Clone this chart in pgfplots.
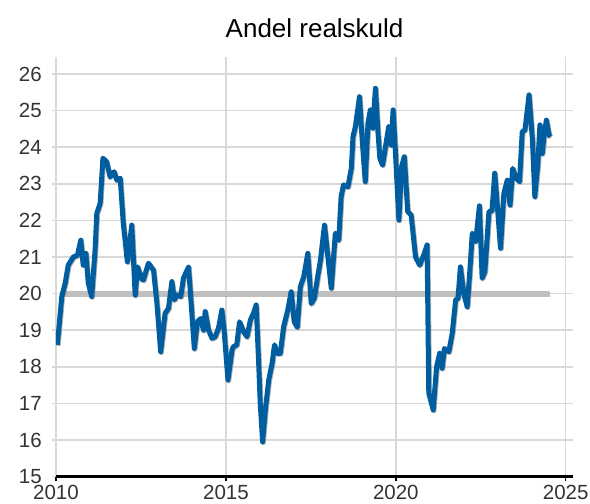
\documentclass[border=0pt]{standalone}
\usepackage{fontspec}
\setmainfont{Liberation Sans}
\usepackage{pgfplots}
\pgfplotsset{compat=1.18}

\definecolor{lineblue}{RGB}{0,94,160}
\definecolor{gridgray}{RGB}{217,217,217}
\definecolor{refgray}{RGB}{192,192,192}
\definecolor{labelgray}{RGB}{51,51,51}

\begin{document}
\begin{tikzpicture}
\useasboundingbox (-56bp,-27.4bp) rectangle (534bp,476.6bp);
\begin{axis}[
    scale only axis,
    width=517.2bp, height=419.4bp,
    xmin=2010, xmax=2025.22,
    ymin=15, ymax=26.46,
    xtick={2010,2015,2020,2025},
    ytick={15,16,...,26},
    /pgf/number format/1000 sep={},
    /pgf/number format/assume math mode=true,
    grid=major,
    major grid style={gridgray, line width=1.5bp},
    axis lines*=left,
    x axis line style={black, line width=2.5bp, -},
    y axis line style={draw=none},
    tick align=outside,
    major tick length=4bp,
    xtick style={black, line width=1.5bp},
    ytick style={gridgray, line width=1.5bp},
    tick label style={font=\fontsize{20.5bp}{24bp}\selectfont, text=labelgray},
    yticklabel style={anchor=east, inner sep=0pt, xshift=-10bp},
    xticklabel style={anchor=north, inner sep=0pt, yshift=-4.5bp},
    title={Andel realskuld},
    title style={font=\fontsize{26bp}{30bp}\selectfont, inner sep=0pt,
        anchor=base, at={(0.5,1)}, yshift=14bp},
]

% reference line at 20
\addplot[gray, opacity=0.5, line width=5bp, xshift=0.8bp, yshift=-0.8bp]
    coordinates {(2010.12,20) (2024.5,20)};
\addplot[refgray, line width=5bp]
    coordinates {(2010.12,20) (2024.5,20)};

% Andel realskuld
\def\realdata{
(2010.04,18.60) (2010.17,19.92) (2010.27,20.28) (2010.36,20.78) (2010.51,21.00)
(2010.63,21.05) (2010.73,21.46) (2010.80,20.78) (2010.88,21.10) (2010.95,20.28)
(2011.05,19.92) (2011.15,21.19) (2011.20,22.19) (2011.30,22.47) (2011.38,23.70)
(2011.49,23.60) (2011.59,23.19) (2011.71,23.33) (2011.79,23.10) (2011.89,23.15)
(2011.98,21.92) (2012.10,20.87) (2012.23,21.87) (2012.33,19.96) (2012.40,20.73)
(2012.52,20.40) (2012.57,20.37) (2012.72,20.83) (2012.87,20.64) (2012.97,19.73)
(2013.08,18.41) (2013.21,19.46) (2013.31,19.60) (2013.41,20.33) (2013.48,19.83)
(2013.56,19.96) (2013.67,19.92) (2013.75,20.42) (2013.90,20.73) (2013.97,19.83)
(2014.07,18.50) (2014.16,19.23) (2014.26,19.32) (2014.34,19.00) (2014.39,19.51)
(2014.49,19.00) (2014.59,18.78) (2014.68,18.82) (2014.78,19.05) (2014.88,19.55)
(2014.95,18.96) (2015.06,17.64) (2015.18,18.46) (2015.22,18.55) (2015.32,18.60)
(2015.40,19.23) (2015.52,18.96) (2015.62,18.82) (2015.72,19.28) (2015.81,19.46)
(2015.89,19.69) (2015.96,18.19) (2016.01,17.00) (2016.08,15.95) (2016.16,16.82)
(2016.26,17.64) (2016.36,18.10) (2016.43,18.60) (2016.50,18.37) (2016.60,18.37)
(2016.70,19.10) (2016.82,19.55) (2016.92,20.05) (2017.01,19.23) (2017.10,19.08)
(2017.19,20.19) (2017.29,20.46) (2017.41,21.10) (2017.51,19.73) (2017.60,19.87)
(2017.70,20.46) (2017.78,20.90) (2017.90,21.87) (2017.99,21.10) (2018.10,20.15)
(2018.22,21.65) (2018.32,21.46) (2018.39,22.65) (2018.46,22.97) (2018.59,22.92)
(2018.69,23.42) (2018.74,24.29) (2018.81,24.56) (2018.93,25.38) (2019.01,24.20)
(2019.10,23.06) (2019.18,24.65) (2019.25,25.02) (2019.32,24.52) (2019.40,25.61)
(2019.47,24.47) (2019.53,23.70) (2019.61,23.51) (2019.72,24.15) (2019.79,24.56)
(2019.86,24.06) (2019.92,25.02) (2019.99,23.83) (2020.09,22.01) (2020.17,23.47)
(2020.25,23.74) (2020.35,22.24) (2020.45,22.15) (2020.58,21.00) (2020.70,20.78)
(2020.82,21.05) (2020.92,21.33) (2020.97,17.28) (2021.10,16.82) (2021.20,18.00)
(2021.29,18.37) (2021.36,17.96) (2021.43,18.50) (2021.56,18.41) (2021.66,18.92)
(2021.76,19.83) (2021.83,19.87) (2021.90,20.73) (2022.00,20.00) (2022.10,19.64)
(2022.18,20.64) (2022.25,21.65) (2022.35,21.42) (2022.46,22.40) (2022.54,20.42)
(2022.62,20.60) (2022.74,22.24) (2022.83,22.26) (2022.91,23.29) (2022.99,22.37)
(2023.08,21.24) (2023.18,22.74) (2023.28,23.10) (2023.36,22.42) (2023.44,23.42)
(2023.54,23.15) (2023.64,23.06) (2023.72,24.42) (2023.80,24.47) (2023.92,25.43)
(2024.02,24.20) (2024.09,22.65) (2024.18,23.56) (2024.24,24.61) (2024.31,23.83)
(2024.36,24.29) (2024.43,24.74) (2024.51,24.33) (2024.55,24.29)
}
\addplot[gray, opacity=0.6, line width=5bp, line join=round, xshift=0.8bp, yshift=-0.8bp]
    coordinates {\realdata};
\addplot[lineblue, line width=5bp, line join=round]
    coordinates {\realdata};
\end{axis}
\end{tikzpicture}
\end{document}
